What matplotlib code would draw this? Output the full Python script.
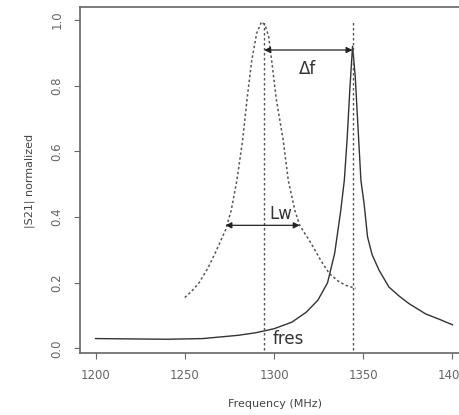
import matplotlib.pyplot as plt

f_meas = [1200, 1220, 1240, 1260, 1280, 1290, 1300, 1310, 1318, 1324.6, 1330, 1334, 1337.4,
          1339.4, 1341, 1342.5, 1344, 1345.5, 1347, 1348.7, 1350.5, 1352.4, 1355, 1358.9,
          1364.4, 1370, 1375.5, 1385, 1393, 1400]
s_meas = [0.030, 0.029, 0.028, 0.030, 0.040, 0.048, 0.060, 0.080, 0.110, 0.147, 0.200, 0.290, 0.420,
          0.512, 0.640, 0.790, 0.920, 0.830, 0.680, 0.512, 0.440, 0.340, 0.285, 0.238,
          0.187, 0.160, 0.137, 0.105, 0.088, 0.072]

f_ref = [1250, 1254, 1258, 1263, 1267, 1272.8, 1276, 1279.2, 1282.4, 1284.8, 1287.5, 1290.3,
         1293, 1295, 1297, 1298.7, 1301.4, 1305.2, 1308, 1311.7, 1314.4, 1320.8, 1326, 1331,
         1336, 1340.3, 1345.7]
s_ref = [0.155, 0.175, 0.200, 0.245, 0.290, 0.360, 0.420, 0.512, 0.633, 0.755, 0.876, 0.960,
         0.995, 0.985, 0.950, 0.876, 0.755, 0.633, 0.512, 0.420, 0.375, 0.320, 0.270, 0.228,
         0.205, 0.192, 0.183]

f_res_ref = 1294.5
f_res_meas = 1344
lw_left, lw_right, lw_level = 1272.8, 1314.4, 0.375
df_level = 0.909

xticks = [1200, 1250, 1300, 1350, 1400]
yticks = [0.0, 0.2, 0.4, 0.6, 0.8, 1.0]

fig = plt.figure(figsize=(4.59, 4.15), dpi=100)
ax = fig.add_axes([80/459, (415-352.7)/415, (468-80)/459, (352.7-7)/415])

ax.plot(f_meas, s_meas, color='#333333', lw=1.0)
ax.plot(f_ref, s_ref, color='#555555', lw=1.1, linestyle=(0, (1.6, 1.6)))

for fv in [f_res_ref, f_res_meas]:
    ax.plot([fv, fv], [-0.05, 1.0], color='#555555', lw=1.0, linestyle=(0, (1.8, 1.8)))

ax.annotate('', xy=(lw_left, lw_level), xytext=(lw_right, lw_level),
            arrowprops=dict(arrowstyle='<|-|>', color='#222222', lw=0.9,
                            mutation_scale=9, shrinkA=0, shrinkB=0))
ax.annotate('', xy=(f_res_ref, df_level), xytext=(f_res_meas, df_level),
            arrowprops=dict(arrowstyle='<|-|>', color='#222222', lw=0.9,
                            mutation_scale=9, shrinkA=0, shrinkB=0))

ax.text(1303.8, 0.41, 'Lw', fontsize=12, color='#333333', ha='center', va='center')
ax.text(1319, 0.852, 'Δf', fontsize=12, color='#333333', ha='center', va='center')
ax.text(1308, 0.03, 'fres', fontsize=12, color='#333333', ha='center', va='center')

ax.set_xlim(1191.3, 1408.7)
ax.set_ylim(-0.013, 1.04)
ax.set_xticks(xticks)
ax.set_yticks(yticks)
ax.set_xticklabels([str(x) for x in xticks], fontsize=8.5, color='#444444')
ax.set_yticklabels(['%.1f' % y for y in yticks], fontsize=8.5, color='#444444',
                   rotation=90, va='center')
ax.tick_params(colors='#666666', length=4, width=0.8)
ax.tick_params(axis='x', pad=8)
ax.tick_params(axis='y', pad=8)
for s in ax.spines.values():
    s.set_color('#666666')
    s.set_linewidth(1.2)

fig.text(275.5/459, 1 - 404/415, 'Frequency (MHz)', fontsize=8, color='#444444',
         ha='center', va='center')
fig.text(30/459, 1 - 181/415, '|S21| normalized', fontsize=8, color='#444444',
         ha='center', va='center', rotation=90)

fig.savefig('out.png', dpi=100)
